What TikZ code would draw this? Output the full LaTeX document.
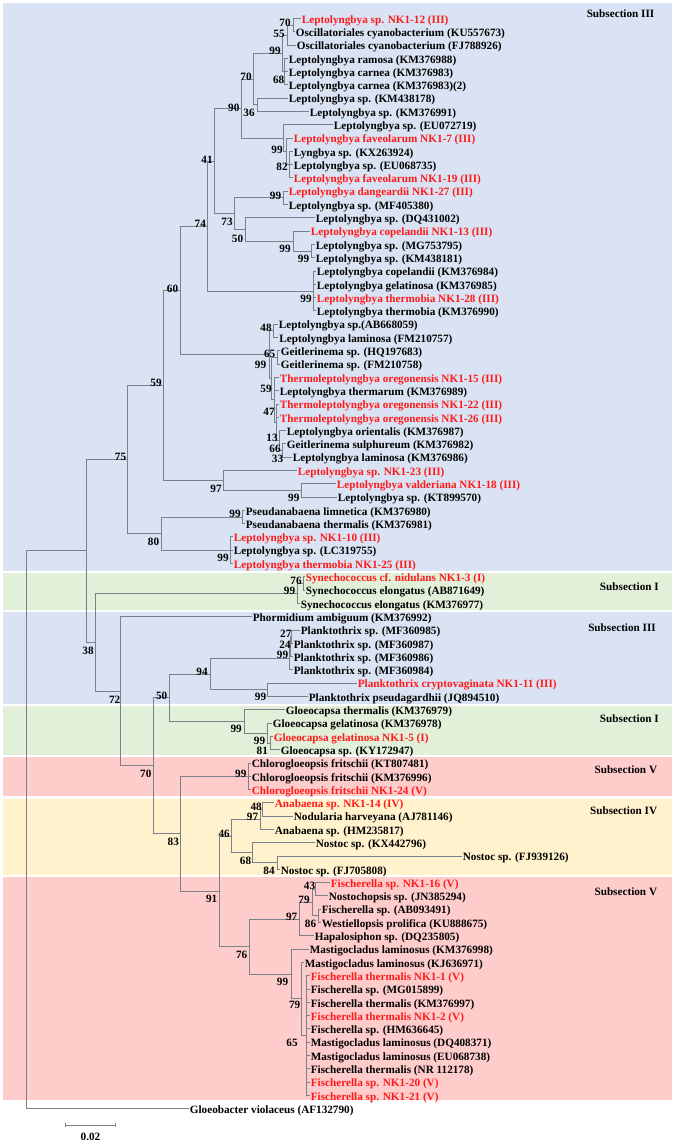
\documentclass[tikz,border=0pt]{standalone}
\usepackage{fontspec}
\setmainfont{Liberation Serif}
\definecolor{bgblue}{HTML}{DAE3F3}
\definecolor{bggreen}{HTML}{E2F0D9}
\definecolor{bgpink}{HTML}{FFCCCC}
\definecolor{bgyellow}{HTML}{FFF2CC}
\definecolor{nkred}{HTML}{FF1A1A}
\definecolor{brgray}{HTML}{7A808C}
\newcommand\tfont{\bfseries\fontsize{11.2}{13}\selectfont}
\begin{document}
\begin{tikzpicture}[x=1pt,y=-1pt,
  leaf/.style={anchor=west,inner xsep=1.2pt,inner ysep=0pt,text height=9.6pt,text depth=0pt,font=\tfont,text=black},
  nk/.style={leaf,text=nkred},
  bs/.style={inner sep=0pt,font=\tfont,text=black},
  sub/.style={anchor=east,inner sep=0pt,font=\tfont,text=black},
  br/.style={draw=brgray,line width=0.8pt}]
\useasboundingbox (0,0) rectangle (675,1141);
\fill[white] (0,0) rectangle (675,1141);
% background bands
\fill[bgblue] (3,3) rectangle (672,571);
\fill[bggreen] (3,573) rectangle (672,609.5);
\fill[bgblue] (3,612) rectangle (672,703.5);
\fill[bggreen] (3,706) rectangle (672,755);
\fill[bgpink] (3,757) rectangle (672,796);
\fill[bgyellow] (3,798.5) rectangle (672,874.5);
\fill[bgpink] (3,876.5) rectangle (672,1100);
% subsection labels
\node[sub] (s1) at (654.5,13.3) {Subsection III};
\node[sub] (s2) at (659,586.7) {Subsection I};
\node[sub] (s3) at (656,627.7) {Subsection III};
\node[sub] (s4) at (659,719) {Subsection I};
\node[sub] (s5) at (657.3,769.3) {Subsection V};
\node[sub] (s6) at (657.3,811) {Subsection IV};
\node[sub] (s7) at (657.3,891.7) {Subsection V};
% leaves
\node[nk] (l1) at (300.5,18.3) {Leptolyngbya sp. NK1-12 (III)};
\node[leaf] (l2) at (294.5,31.6) {Oscillatoriales cyanobacterium (KU557673)};
\node[leaf] (l3) at (295.5,44.9) {Oscillatoriales cyanobacterium (FJ788926)};
\node[leaf] (l4) at (287.5,58.2) {Leptolyngbya ramosa (KM376988)};
\node[leaf] (l5) at (287.5,71.5) {Leptolyngbya carnea (KM376983)};
\node[leaf] (l6) at (287.5,84.8) {Leptolyngbya carnea (KM376983)(2)};
\node[leaf] (l7) at (287.5,98.1) {Leptolyngbya sp. (KM438178)};
\node[leaf] (l8) at (308.5,111.4) {Leptolyngbya sp. (KM376991)};
\node[leaf] (l9) at (332.5,124.7) {Leptolyngbya sp. (EU072719)};
\node[nk] (l10) at (292.5,138.0) {Leptolyngbya faveolarum NK1-7 (III)};
\node[leaf] (l11) at (292.5,151.25) {Lyngbya sp. (KX263924)};
\node[leaf] (l12) at (292.5,164.55) {Leptolyngbya sp. (EU068735)};
\node[nk] (l13) at (292.5,177.84) {Leptolyngbya faveolarum NK1-19 (III)};
\node[nk] (l14) at (287.5,191.14) {Leptolyngbya dangeardii NK1-27 (III)};
\node[leaf] (l15) at (287.5,204.43) {Leptolyngbya sp. (MF405380)};
\node[leaf] (l16) at (314.5,217.73) {Leptolyngbya sp. (DQ431002)};
\node[nk] (l17) at (309.5,231.02) {Leptolyngbya copelandii NK1-13 (III)};
\node[leaf] (l18) at (314.5,244.32) {Leptolyngbya sp. (MG753795)};
\node[leaf] (l19) at (314.5,257.61) {Leptolyngbya sp. (KM438181)};
\node[leaf] (l20) at (315.5,270.9) {Leptolyngbya copelandii (KM376984)};
\node[leaf] (l21) at (315.5,284.2) {Leptolyngbya gelatinosa (KM376985)};
\node[nk] (l22) at (315.5,297.5) {Leptolyngbya thermobia NK1-28 (III)};
\node[leaf] (l23) at (315.5,310.8) {Leptolyngbya thermobia (KM376990)};
\node[leaf] (l24) at (277.5,324.1) {Leptolyngbya sp.(AB668059)};
\node[leaf] (l25) at (278,337.4) {Leptolyngbya laminosa (FM210757)};
\node[leaf] (l26) at (279.5,350.7) {Geitlerinema sp. (HQ197683)};
\node[leaf] (l27) at (279.5,364.0) {Geitlerinema sp. (FM210758)};
\node[nk] (l28) at (278.5,377.3) {Thermoleptolyngbya oregonensis NK1-15 (III)};
\node[leaf] (l29) at (278.5,390.6) {Leptolyngbya thermarum (KM376989)};
\node[nk] (l30) at (278.5,403.9) {Thermoleptolyngbya oregonensis NK1-22 (III)};
\node[nk] (l31) at (278.5,417.2) {Thermoleptolyngbya oregonensis NK1-26 (III)};
\node[leaf] (l32) at (285.5,430.5) {Leptolyngbya orientalis (KM376987)};
\node[leaf] (l33) at (285.5,443.7) {Geitlerinema sulphureum (KM376982)};
\node[leaf] (l34) at (291.5,457.0) {Leptolyngbya laminosa (KM376986)};
\node[nk] (l35) at (296.5,470.3) {Leptolyngbya sp. NK1-23 (III)};
\node[nk] (l36) at (335.5,483.6) {Leptolyngbya valderiana NK1-18 (III)};
\node[leaf] (l37) at (336.5,496.9) {Leptolyngbya sp. (KT899570)};
\node[leaf] (l38) at (244.5,510.2) {Pseudanabaena limnetica (KM376980)};
\node[leaf] (l39) at (244.5,523.5) {Pseudanabaena thermalis (KM376981)};
\node[nk] (l40) at (232.5,536.8) {Leptolyngbya sp. NK1-10 (III)};
\node[leaf] (l41) at (232.5,550.1) {Leptolyngbya sp. (LC319755)};
\node[nk] (l42) at (232.5,563.4) {Leptolyngbya thermobia NK1-25 (III)};
\node[nk] (l43) at (304.5,576.7) {Synechococcus cf. nidulans NK1-3 (I)};
\node[leaf] (l44) at (304.5,590.0) {Synechococcus elongatus (AB871649)};
\node[leaf] (l45) at (299.5,603.3) {Synechococcus elongatus (KM376977)};
\node[leaf] (l46) at (251.5,616.6) {Phormidium ambiguum (KM376992)};
\node[leaf] (l47) at (299.5,629.9) {Planktothrix sp. (MF360985)};
\node[leaf] (l48) at (292.5,643.2) {Planktothrix sp. (MF360987)};
\node[leaf] (l49) at (292.5,656.5) {Planktothrix sp. (MF360986)};
\node[leaf] (l50) at (292.5,669.8) {Planktothrix sp. (MF360984)};
\node[nk] (l51) at (356.5,683.1) {Planktothrix cryptovaginata NK1-11 (III)};
\node[leaf] (l52) at (307.5,696.4) {Planktothrix pseudagardhii (JQ894510)};
\node[leaf] (l53) at (284.5,709.7) {Gloeocapsa thermalis (KM376979)};
\node[leaf] (l54) at (271.5,723.0) {Gloeocapsa gelatinosa (KM376978)};
\node[nk] (l55) at (272.5,736.3) {Gloeocapsa gelatinosa NK1-5 (I)};
\node[leaf] (l56) at (279.5,749.6) {Gloeocapsa sp. (KY172947)};
\node[leaf] (l57) at (250.5,762.9) {Chlorogloeopsis fritschii (KT807481)};
\node[leaf] (l58) at (250.5,776.2) {Chlorogloeopsis fritschii (KM376996)};
\node[nk] (l59) at (250.5,789.5) {Chlorogloeopsis fritschii NK1-24 (V)};
\node[nk] (l60) at (273.5,802.8) {Anabaena sp. NK1-14 (IV)};
\node[leaf] (l61) at (292.5,816.1) {Nodularia harveyana (AJ781146)};
\node[leaf] (l62) at (273.5,829.4) {Anabaena sp. (HM235817)};
\node[leaf] (l63) at (314.5,842.7) {Nostoc sp. (KX442796)};
\node[leaf] (l64) at (461.5,856.0) {Nostoc sp. (FJ939126)};
\node[leaf] (l65) at (279.5,869.3) {Nostoc sp. (FJ705808)};
\node[nk] (l66) at (329.5,882.5) {Fischerella sp. NK1-16 (V)};
\node[leaf] (l67) at (327.5,895.8) {Nostochopsis sp. (JN385294)};
\node[leaf] (l68) at (320.5,909.1) {Fischerella sp. (AB093491)};
\node[leaf] (l69) at (320.5,922.4) {Westiellopsis prolifica (KU888675)};
\node[leaf] (l70) at (313.5,935.7) {Hapalosiphon sp. (DQ235805)};
\node[leaf] (l71) at (308.5,949.0) {Mastigocladus laminosus (KM376998)};
\node[leaf] (l72) at (303.5,962.3) {Mastigocladus laminosus (KJ636971)};
\node[nk] (l73) at (309.5,975.6) {Fischerella thermalis NK1-1 (V)};
\node[leaf] (l74) at (309.5,988.9) {Fischerella sp. (MG015899)};
\node[leaf] (l75) at (309.5,1002.2) {Fischerella thermalis (KM376997)};
\node[nk] (l76) at (309.5,1015.5) {Fischerella thermalis NK1-2 (V)};
\node[leaf] (l77) at (309.5,1028.8) {Fischerella sp. (HM636645)};
\node[leaf] (l78) at (309.5,1042.1) {Mastigocladus laminosus (DQ408371)};
\node[leaf] (l79) at (309.5,1055.4) {Mastigocladus laminosus (EU068738)};
\node[leaf] (l80) at (309.5,1068.7) {Fischerella thermalis (NR 112178)};
\node[nk] (l81) at (309.5,1082.0) {Fischerella sp. NK1-20 (V)};
\node[nk] (l82) at (309.5,1095.3) {Fischerella sp. NK1-21 (V)};
\node[leaf] (l83) at (188.5,1108.5) {Gloeobacter violaceus (AF132790)};
% internal nodes
\coordinate (n70a) at (293,25.0);
\coordinate (n55) at (287,35.0);
\coordinate (n68) at (284.5,71.5);
\coordinate (n99a) at (282.5,53.2);
\coordinate (n36) at (257.7,104.8);
\coordinate (n70b) at (253.3,79.0);
\coordinate (n82) at (289.3,164.5);
\coordinate (n99b) at (286.7,151.2);
\coordinate (nX) at (283.3,138.0);
\coordinate (n90) at (241,108.5);
\coordinate (n99c) at (283.7,197.8);
\coordinate (n99e) at (311.7,251.0);
\coordinate (n99d) at (293.3,241.0);
\coordinate (n50a) at (245.7,229.4);
\coordinate (n73) at (234.7,213.6);
\coordinate (n41) at (214.3,161.1);
\coordinate (n99f) at (313.3,290.9);
\coordinate (n74) at (207.7,226.0);
\coordinate (n48a) at (273.5,330.8);
\coordinate (n65a) at (277,357.3);
\coordinate (n66) at (282,450.4);
\coordinate (n13) at (279.5,440.4);
\coordinate (n47) at (276.5,422.2);
\coordinate (n59a) at (274,399.7);
\coordinate (nR) at (271.5,378.5);
\coordinate (n99g) at (269.3,354.6);
\coordinate (n60) at (180,290.3);
\coordinate (n99h) at (301.7,490.25);
\coordinate (n97a) at (223.3,480.3);
\coordinate (n59b) at (163.3,385.3);
\coordinate (n99i) at (242.7,516.9);
\coordinate (n99j) at (230.5,550.1);
\coordinate (n80) at (161.3,533.5);
\coordinate (n75) at (127.3,459.4);
\coordinate (n76a) at (303.3,583.3);
\coordinate (n99k) at (297.3,593.3);
\coordinate (n27) at (291.5,636.55);
\coordinate (n24) at (290.3,646.5);
\coordinate (n99m) at (289.3,658.2);
\coordinate (n99n) at (267.3,689.75);
\coordinate (n94) at (210,674.0);
\coordinate (n81) at (270,743.0);
\coordinate (n99o) at (267.3,733.0);
\coordinate (n99l) at (244.3,721.4);
\coordinate (n50b) at (169.3,697.7);
\coordinate (n99p) at (248.3,776.2);
\coordinate (n48b) at (262.5,809.5);
\coordinate (n97b) at (260,819.4);
\coordinate (n84) at (277,862.6);
\coordinate (n68b) at (252.5,852.7);
\coordinate (n46) at (231,836.0);
\coordinate (n43) at (315,889.2);
\coordinate (n86) at (318.3,915.8);
\coordinate (n79b) at (312.7,902.5);
\coordinate (n97c) at (299,919.1);
\coordinate (n65b) at (306,1035.5);
\coordinate (n79c) at (301.5,998.7);
\coordinate (n99q) at (291.7,973.9);
\coordinate (n76b) at (249.3,946.5);
\coordinate (n91) at (219.3,891.3);
\coordinate (n83) at (180.3,833.7);
\coordinate (n70c) at (153.3,765.7);
\coordinate (n72) at (120.7,691.1);
\coordinate (n38b) at (95.7,642.2);
\coordinate (n38) at (86,550.8);
\coordinate (root) at (26,829.7);
% branches
\foreach \p/\c in {n70a/l1.west,n70a/l2.west,n55/n70a,n55/l3.west,
  n68/l4.west,n68/l5.west,n68/l6.west,n99a/n55,n99a/n68,
  n36/l7.west,n36/l8.west,n70b/n99a,n70b/n36,
  n82/l11.west,n82/l12.west,n82/l13.west,n99b/l10.west,n99b/n82,
  nX/l9.west,nX/n99b,n90/n70b,n90/nX,
  n99c/l14.west,n99c/l15.west,n99e/l18.west,n99e/l19.west,
  n99d/l17.west,n99d/n99e,n50a/l16.west,n50a/n99d,n73/n99c,n73/n50a,
  n41/n90,n41/n73,n99f/l20.west,n99f/l21.west,n99f/l22.west,n99f/l23.west,
  n74/n41,n74/n99f,
  n48a/l24.west,n48a/l25.west,n65a/l26.west,n65a/l27.west,
  n66/l33.west,n66/l34.west,n13/l32.west,n13/n66,
  n47/l30.west,n47/l31.west,n47/n13,n59a/l28.west,n59a/l29.west,n59a/n47,
  nR/n65a,nR/n59a,n99g/n48a,n99g/nR,n60/n74,n60/n99g,
  n99h/l36.west,n99h/l37.west,n97a/l35.west,n97a/n99h,n59b/n60,n59b/n97a,
  n99i/l38.west,n99i/l39.west,n99j/l40.west,n99j/l41.west,n99j/l42.west,
  n80/n99i,n80/n99j,n75/n59b,n75/n80,
  n76a/l43.west,n76a/l44.west,n99k/n76a,n99k/l45.west,
  n27/l47.west,n27/l48.west,n24/n27,n24/l49.west,n99m/n24,n99m/l50.west,
  n99n/l51.west,n99n/l52.west,n94/n99m,n94/n99n,
  n81/l55.west,n81/l56.west,n99o/l54.west,n99o/n81,n99l/l53.west,n99l/n99o,
  n50b/n94,n50b/n99l,
  n99p/l57.west,n99p/l58.west,n99p/l59.west,
  n48b/l60.west,n48b/l61.west,n97b/n48b,n97b/l62.west,
  n84/l64.west,n84/l65.west,n68b/l63.west,n68b/n84,n46/n97b,n46/n68b,
  n43/l66.west,n43/l67.west,n86/l68.west,n86/l69.west,n79b/n43,n79b/n86,
  n97c/n79b,n97c/l70.west,
  n65b/l73.west,n65b/l74.west,n65b/l75.west,n65b/l76.west,n65b/l77.west,
  n65b/l78.west,n65b/l79.west,n65b/l80.west,n65b/l81.west,n65b/l82.west,
  n79c/l72.west,n79c/n65b,n99q/l71.west,n99q/n79c,n76b/n97c,n76b/n99q,
  n91/n46,n91/n76b,n83/n99p,n83/n91,n70c/n50b,n70c/n83,
  n72/l46.west,n72/n70c,n38b/n99k,n38b/n72,n38/n75,n38/n38b,
  root/n38,root/l83.west}
  \draw[br] (\p) |- (\c);
% bootstrap values
\foreach \xx/\yy/\t [count=\i] in {285/22.7/70,279/33.7/55,275/51/99,278.7/80/68,246/77.3/70,
  249/113.3/36,233.8/107.7/90,277/150/99,282/166.5/82,207/160/41,275.5/195.7/99,
  227/222.3/73,237.5/239/50,285/249/99,303.5/259/99,200.3/224.3/74,306/299/99,
  172.5/288.5/60,266/328.3/48,269.7/354.3/65,260.5/365/99,266/389/59,269/411.7/47,
  272/437.7/13,275/449/66,277.5/459.3/33,156/383/59,216/489/97,293.8/498.3/99,
  120.5/457.3/75,235/514.3/99,153.5/541.7/80,223/557.7/99,296/580.7/76,289.5/591/99,
  88/650.7/38,285.8/633.3/27,285/645/24,282.5/655/99,202/671.7/94,260.5/697.3/99,
  161.7/695.7/50,114.7/699.3/72,236.2/729.3/99,259.5/740.7/99,262.3/751/81,
  145.8/774/70,240.8/774.3/99,256.2/806.7/48,252.5/816.7/97,224.2/834/46,
  245.5/860.7/68,269/870.7/84,173.3/841.7/83,211.7/899.3/91,309.5/885.5/43,
  304/900/79,291.7/916.7/97,310.5/924.3/86,241.7/955/76,282.5/981.7/99,
  294.7/1005/79,292/1043.3/65}
  \node[bs] (b\i) at (\xx,\yy) {\t};
% scale bar
\coordinate (sb1) at (65,1125);
\coordinate (sb2) at (115.5,1125);
\draw[br] (sb1) -- (sb2);
\draw[br] ([yshift=2pt]sb1) -- ([yshift=-2pt]sb1);
\draw[br] ([yshift=2pt]sb2) -- ([yshift=-2pt]sb2);
\node[bs] (sbl) at (90.5,1137) {0.02};
\end{tikzpicture}
\end{document}
